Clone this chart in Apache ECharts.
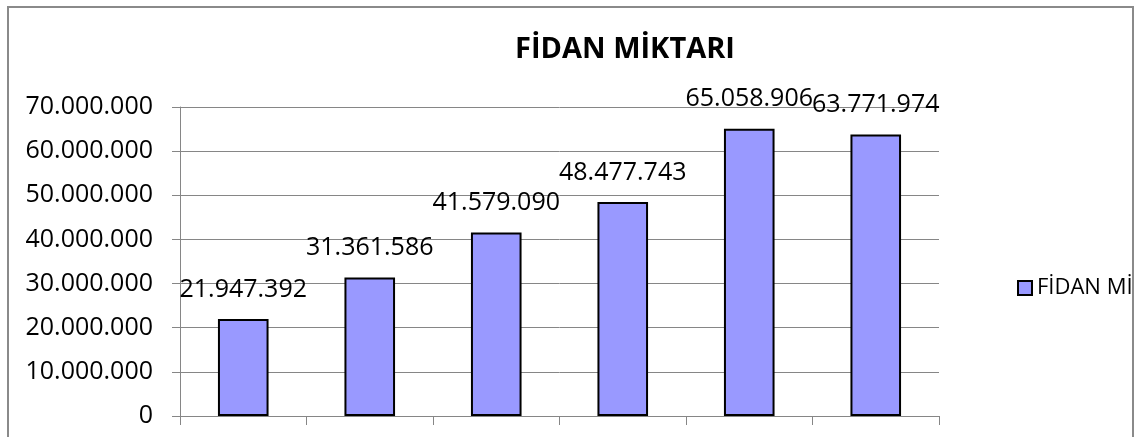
<!DOCTYPE html>
<html>
<head>
<meta charset="utf-8">
<script src="https://cdn.jsdelivr.net/npm/echarts@6/dist/echarts.min.js"></script>
<style>
  html, body { margin: 0; padding: 0; background: #fff; }
  #chart { width: 1147px; height: 437px; }
</style>
</head>
<body>
<div id="chart"></div>
<script>
var categories = ["1", "2", "3", "4", "5", "6"];
var fidanMiktari = [21947392, 31361586, 41579090, 48477743, 65058906, 63771974];
var seriesName = "FİDAN MİKTARI";
var titleText = "FİDAN MİKTARI";

function dotted(v) {
  return String(v).replace(/\B(?=(\d{3})+(?!\d))/g, ".");
}

var chart = echarts.init(document.getElementById("chart"), null, { renderer: "canvas" });

var option = {
  animation: false,
  textStyle: { fontFamily: "Open Sans" },
  title: {
    text: titleText,
    left: 620,
    top: 30,
    textAlign: "center",
    textStyle: { fontFamily: "Open Sans", fontWeight: "bold", fontSize: 29, color: "#000" }
  },
  graphic: [
    {
      type: "rect",
      shape: { x: 8, y: 7, width: 1125, height: 460 },
      style: { fill: "none", stroke: "#8a8a8a", lineWidth: 2 },
      silent: true
    }
  ],
  legend: {
    left: 1012,
    top: 272,
    itemWidth: 14,
    itemHeight: 14,
    itemGap: 10,
    data: [{ name: seriesName, icon: "rect" }],
    textStyle: {
      fontFamily: "Open Sans",
      fontSize: 22,
      color: "#000",
      width: 120,
      overflow: "truncate",
      ellipsis: ""
    }
  },
  grid: { left: 180, right: 208, top: 107, bottom: 21 },
  xAxis: {
    type: "category",
    data: categories,
    axisLine: { lineStyle: { color: "#868686", width: 1 } },
    axisTick: { show: true, length: 9, lineStyle: { color: "#868686" } },
    axisLabel: { show: false }
  },
  yAxis: {
    type: "value",
    min: 0,
    max: 70000000,
    interval: 10000000,
    axisLine: { show: true, lineStyle: { color: "#868686", width: 1 } },
    axisTick: { show: true, length: 8, lineStyle: { color: "#868686" } },
    splitLine: { lineStyle: { color: "#868686", width: 1 } },
    axisLabel: {
      margin: 27,
      fontFamily: "Open Sans",
      fontSize: 25,
      color: "#000",
      formatter: function (v) { return dotted(v); }
    }
  },
  series: [
    {
      name: seriesName,
      type: "bar",
      data: fidanMiktari,
      barWidth: "40%",
      itemStyle: { color: "#9999ff", borderColor: "#000", borderWidth: 2 },
      label: {
        show: true,
        position: "top",
        distance: 17,
        fontFamily: "Open Sans",
        fontSize: 25,
        lineHeight: 25,
        color: "#000",
        formatter: function (p) { return dotted(p.value); }
      }
    }
  ]
};

chart.setOption(option);
</script>
</body>
</html>
